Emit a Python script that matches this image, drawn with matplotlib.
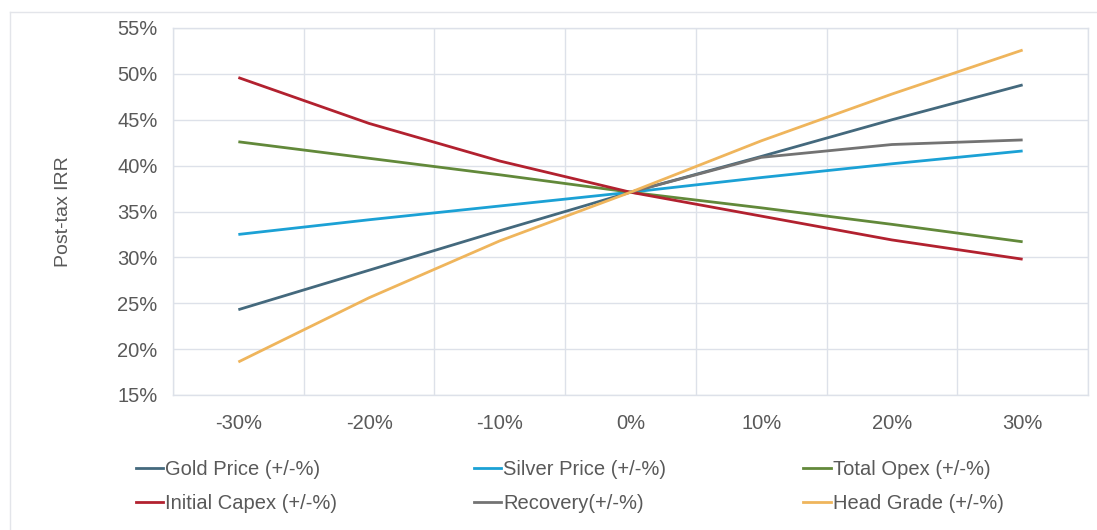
import matplotlib
matplotlib.use("Agg")
import matplotlib.pyplot as plt
from matplotlib.lines import Line2D
import numpy as np

# --- dati ---
variazioni = ["-30%", "-20%", "-10%", "0%", "10%", "20%", "30%"]
gold_price = [24.3, 28.6, 32.9, 37.1, 41.0, 45.0, 48.8]
silver_price = [32.5, 34.1, 35.6, 37.1, 38.7, 40.2, 41.6]
total_opex = [42.6, 40.8, 39.0, 37.1, 35.4, 33.6, 31.7]
initial_capex = [49.6, 44.6, 40.5, 37.1, 34.5, 31.9, 29.8]
recovery = [np.nan, np.nan, np.nan, 37.1, 40.9, 42.3, 42.8]
head_grade = [18.6, 25.6, 31.8, 37.1, 42.7, 47.8, 52.6]

serie = [
    ("Gold Price (+/-%)", gold_price, "#44697d"),
    ("Silver Price (+/-%)", silver_price, "#1ba1d5"),
    ("Total Opex (+/-%)", total_opex, "#62893a"),
    ("Initial Capex (+/-%)", initial_capex, "#b2212f"),
    ("Recovery(+/-%)", recovery, "#737373"),
    ("Head Grade (+/-%)", head_grade, "#efb55c"),
]

plt.rcParams['font.family'] = ['Liberation Sans', 'DejaVu Sans']

fig = plt.figure(figsize=(10.97, 5.30), dpi=100)
ax = fig.add_axes([173 / 1097, 1 - 395 / 530, (1088 - 173) / 1097, (395 - 28) / 530])

x = np.arange(len(variazioni))
for nome, valori, colore in serie:
    ax.plot(x, valori, color=colore, lw=2.0, label=nome, solid_capstyle='butt')

ax.set_xlim(-0.5, len(variazioni) - 0.5)
ax.set_ylim(15, 55)
ax.set_yticks(np.arange(15, 56, 5))
ax.set_yticklabels([f"{v}%" for v in range(15, 56, 5)])
ax.set_xticks(x)
ax.set_xticklabels(variazioni)
ax.set_xticks(np.arange(-0.5, len(variazioni), 1), minor=True)

grid_col = "#dde1e9"
ax.grid(True, axis='y', which='major', color=grid_col, lw=1)
ax.grid(True, axis='x', which='minor', color=grid_col, lw=1)
ax.grid(False, axis='x', which='major')
ax.set_axisbelow(True)
for s in ax.spines.values():
    s.set_color(grid_col)
    s.set_linewidth(1)

ax.tick_params(axis='both', which='both', length=0, labelsize=14.5, labelcolor="#595959")
ax.tick_params(axis='y', pad=11)
ax.tick_params(axis='x', pad=14)
ax.set_ylabel("Post-tax IRR", fontsize=14, color="#595959", labelpad=33)

# legenda senza cornice, 3 colonne, ordine per righe
handles = [Line2D([], [], color=c, lw=2.0) for _, _, c in serie]
etichette = [n for n, _, _ in serie]
ordine = [0, 3, 1, 4, 2, 5]
fig.legend([handles[i] for i in ordine], [etichette[i] for i in ordine], ncol=3,
           loc='upper left', bbox_to_anchor=(118 / 1097, 1 - 442 / 530), frameon=False,
           fontsize=14.5, handlelength=1.35, handletextpad=0.1,
           columnspacing=6.8, labelspacing=0.75, labelcolor="#595959")

# bordo esterno chiaro
fig.add_artist(Line2D([10 / 1097, 1.0], [1 - 12 / 530, 1 - 12 / 530], color="#e3e5ea", lw=1))
fig.add_artist(Line2D([10 / 1097, 10 / 1097], [0, 1 - 12 / 530], color="#e3e5ea", lw=1))

fig.savefig("out.png", dpi=100)
